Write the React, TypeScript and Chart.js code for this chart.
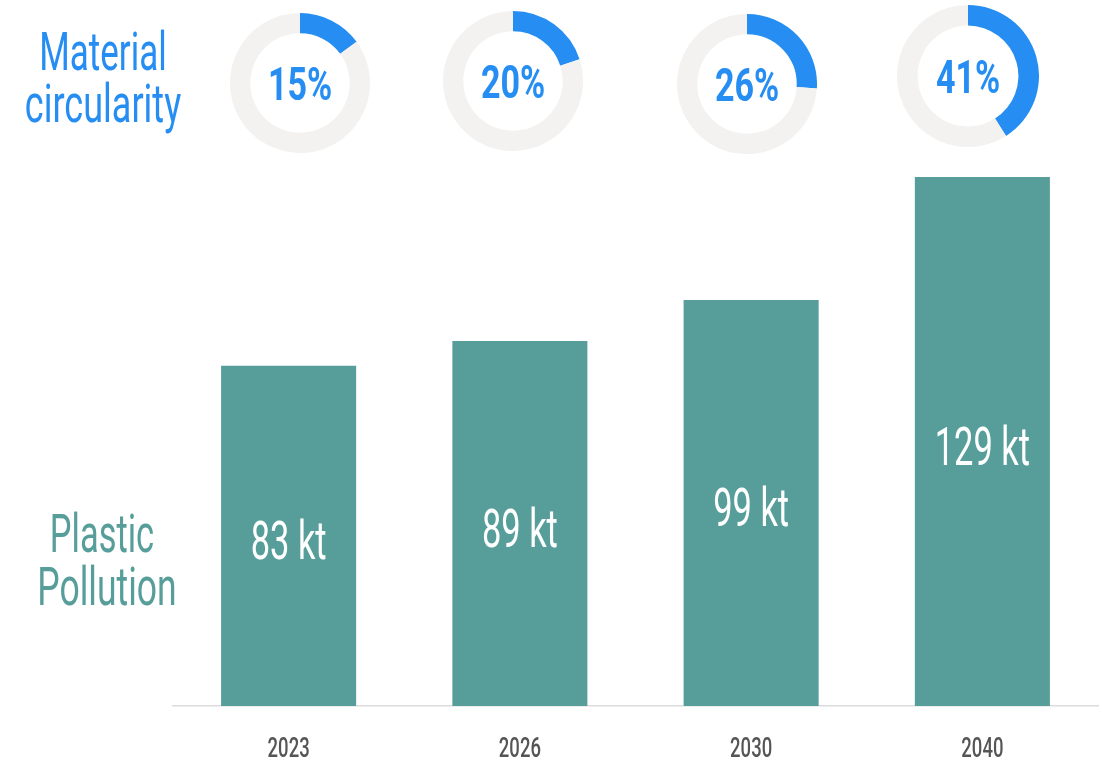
import React, { useEffect, useRef } from 'react';
import { Chart, registerables } from 'chart.js';

Chart.register(...registerables);

// ---- data ----
const years = ['2023', '2026', '2030', '2040'];
const pollutionKt = [83, 89, 99, 129];
const circularityPct = [15, 20, 26, 41];
const unitLabel = 'kt';
const yMax = 130;
const topLabelLines = ['Material', 'circularity'];
const bottomLabelLines = ['Plastic', 'Pollution'];

// ---- style / layout ----
const TEAL = '#579e9b';
const BLUE = '#268ef2';
const RING = '#f3f2f1';
const AXIS = '#dcdcdc';
const TICK = '#555555';
const FONT = 'Roboto, "Liberation Sans", sans-serif';
const donutLayout = [
  { cx: 300, cy: 83, r: 70 },
  { cx: 513, cy: 81, r: 70 },
  { cx: 747, cy: 84, r: 70 },
  { cx: 968, cy: 76, r: 71 },
];

function drawCondensed(
  ctx: CanvasRenderingContext2D,
  text: string,
  x: number,
  y: number,
  size: number,
  weight: string | number,
  color: string,
  sx: number
) {
  ctx.save();
  ctx.font = `${weight} ${size}px ${FONT}`;
  ctx.fillStyle = color;
  ctx.textAlign = 'center';
  ctx.textBaseline = 'alphabetic';
  ctx.translate(x, y);
  ctx.scale(sx, 1);
  ctx.fillText(text, 0, 0);
  ctx.restore();
}

function Donut({ value, layout }: { value: number; layout: { cx: number; cy: number; r: number } }) {
  const ref = useRef<HTMLCanvasElement | null>(null);
  useEffect(() => {
    if (!ref.current) return;
    const centerText = {
      id: 'centerText',
      afterDraw(chart: any) {
        const { ctx, chartArea } = chart;
        const cx = (chartArea.left + chartArea.right) / 2;
        const cy = (chartArea.top + chartArea.bottom) / 2;
        drawCondensed(ctx, `${value}%`, cx, cy + 16.5, 46, 700, BLUE, 0.74);
      },
    };
    const chart = new Chart(ref.current, {
      type: 'doughnut',
      data: {
        labels: ['circular', 'rest'],
        datasets: [
          {
            data: [value, 100 - value],
            backgroundColor: [BLUE, RING],
            borderWidth: 0,
          },
        ],
      },
      options: {
        responsive: false,
        animation: false,
        cutout: '71%',
        events: [],
        layout: { padding: 0 },
        plugins: { legend: { display: false }, tooltip: { enabled: false } },
      },
      plugins: [centerText],
    });
    return () => chart.destroy();
  }, [value]);
  const size = layout.r * 2;
  return (
    <canvas
      ref={ref}
      width={size}
      height={size}
      style={{ position: 'absolute', left: layout.cx - layout.r, top: layout.cy - layout.r, width: size, height: size }}
    />
  );
}

function BarChart() {
  const ref = useRef<HTMLCanvasElement | null>(null);
  useEffect(() => {
    if (!ref.current) return;
    const overlay = {
      id: 'overlay',
      afterDatasetsDraw(chart: any) {
        const { ctx } = chart;
        const meta = chart.getDatasetMeta(0);
        meta.data.forEach((bar: any, i: number) => {
          const mid = (bar.y + bar.base) / 2;
          drawCondensed(ctx, `${pollutionKt[i]} ${unitLabel}`, bar.x, mid + 23, 53, 400, '#ffffff', 0.65);
        });
      },
      afterDraw(chart: any) {
        const { ctx } = chart;
        const xScale = chart.scales.x;
        years.forEach((y, i) => {
          drawCondensed(ctx, y, xScale.getPixelForValue(i), 757, 28, 500, TICK, 0.66);
        });
        drawCondensed(ctx, topLabelLines[0], 103, 70, 53, 400, BLUE, 0.66);
        drawCondensed(ctx, topLabelLines[1], 103, 122, 53, 400, BLUE, 0.68);
        drawCondensed(ctx, bottomLabelLines[0], 102, 552, 53, 400, TEAL, 0.65);
        drawCondensed(ctx, bottomLabelLines[1], 107, 605, 53, 400, TEAL, 0.67);
      },
    };
    const chart = new Chart(ref.current, {
      type: 'bar',
      data: {
        labels: years,
        datasets: [
          {
            data: pollutionKt,
            backgroundColor: TEAL,
            borderWidth: 0,
            barPercentage: 0.584,
            categoryPercentage: 1,
          },
        ],
      },
      options: {
        responsive: false,
        animation: false,
        events: [],
        layout: { padding: { left: 173, right: 4, top: 173, bottom: 56 } },
        scales: {
          x: {
            display: true,
            grid: { display: false, drawTicks: false },
            border: { display: true, color: AXIS, width: 1.5 },
            ticks: { display: false },
          },
          y: {
            display: false,
            min: 0,
            max: yMax,
          },
        },
        plugins: { legend: { display: false }, tooltip: { enabled: false } },
      },
      plugins: [overlay],
    });
    return () => chart.destroy();
  }, []);
  return <canvas ref={ref} width={1102} height={762} style={{ position: 'absolute', left: 0, top: 0, width: 1102, height: 762 }} />;
}

export default function App() {
  return (
    <div style={{ position: 'absolute', left: 0, top: 0, width: 1102, height: 762, background: '#ffffff', overflow: 'hidden' }}>
      <BarChart />
      {circularityPct.map((v, i) => (
        <Donut key={years[i]} value={v} layout={donutLayout[i]} />
      ))}
    </div>
  );
}
